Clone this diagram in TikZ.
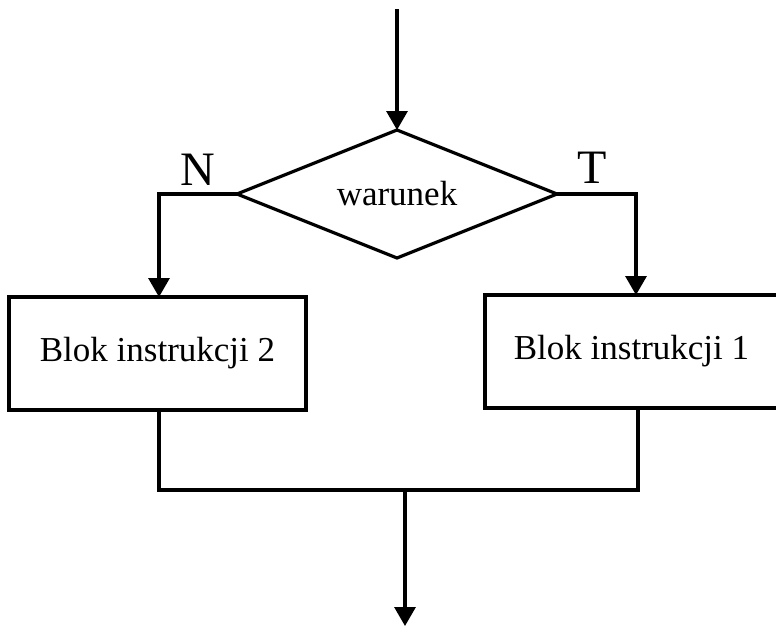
\documentclass[tikz,border=0pt]{standalone}
\usepackage{fontspec}
\setmainfont{Liberation Serif}
\usetikzlibrary{shapes.geometric,arrows.meta}
\tikzset{
  flow/.style={line width=3.2pt},
  arrowline/.style={flow,-{Triangle[width=21pt,length=19pt]}},
  decision/.style={diamond,draw,flow,aspect=2.5,inner sep=0pt,outer sep=0pt,
    minimum width=320pt,minimum height=128pt,font=\fontsize{35}{40}\selectfont},
  block/.style={rectangle,draw,flow,inner sep=0pt,outer sep=0pt,
    minimum height=113pt,font=\fontsize{35}{40}\selectfont},
  branchlabel/.style={anchor=base,inner sep=0pt,font=\fontsize{48}{54}\selectfont}
}
\begin{document}
\begin{tikzpicture}[x=1pt,y=-1pt]
  \useasboundingbox (0,0) rectangle (776,627);
  % decision and the two instruction blocks
  \node[decision] (cond) at (397,194) {warunek};
  \node[block,minimum width=297pt] (blockB) at (157.5,353.5) {Blok instrukcji 2};
  \node[block,minimum width=293pt] (blockA) at (631.5,351.5) {Blok instrukcji 1};
  % branch labels
  \node[branchlabel] (labN) at (198,185) {N};
  \node[branchlabel] (labT) at (592,183) {T};
  % entry and exit points
  \coordinate (entry) at (397,9);
  \coordinate (joinL) at (159,490);
  \coordinate (joinR) at (638,490);
  \coordinate (merge) at (405,490);
  \coordinate (exit) at (405,626);
  % connectors
  \draw[arrowline] (entry) -- (cond.north);
  \draw[arrowline] (cond.west) -| ([xshift=1.5pt]blockB.north);
  \draw[arrowline] (cond.east) -| ([xshift=4.5pt]blockA.north);
  \draw[flow] ([xshift=1.5pt]blockB.south) -- (joinL) -- (joinR) -- (joinR |- blockA.south);
  \draw[arrowline] (merge) -- (exit);
\end{tikzpicture}
\end{document}
